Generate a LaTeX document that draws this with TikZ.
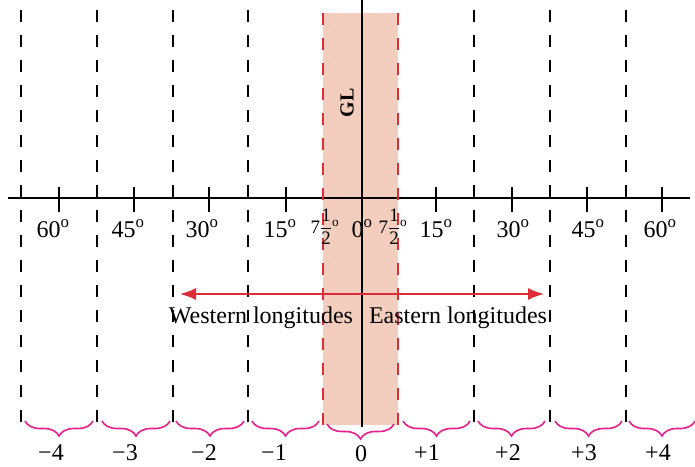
\documentclass[tikz,border=0pt]{standalone}
\usepackage{fontspec}
\setmainfont{Liberation Serif}
\usepackage{amsmath}
\usetikzlibrary{arrows.meta,decorations.pathreplacing}
\definecolor{bandfill}{RGB}{243,206,190}
\definecolor{gmtred}{RGB}{221,45,55}
\definecolor{bracepink}{RGB}{232,30,140}
\begin{document}
\begin{tikzpicture}[x=1pt,y=-1pt,
    lbl/.style={font=\fontsize{24}{27}\selectfont, inner sep=0pt, anchor=base},
    half/.style={font=\fontsize{19}{22}\selectfont, inner sep=0pt, anchor=base},
    zone/.style={line width=1.6pt, dash pattern=on 12pt off 13pt},
    gmt/.style={zone, gmtred},
    tickmark/.style={line width=1.2pt},
    hourbrace/.style={bracepink, line width=1.6pt, decorate, decoration={brace, mirror, amplitude=15pt}}]
      \useasboundingbox (0,0) rectangle (695,466);
      \fill[bandfill] (323,13) rectangle (398,425);
      \draw[line width=1.3pt] (8,198) -- (690,198);
      \foreach \x in {21,97,173,248,474,550,626} \draw[zone] (\x,10) -- (\x,425);
      \draw[gmt] (323,13) -- (323,425);
      \draw[gmt] (398,13) -- (398,425);
      \draw[line width=1.6pt] (362,0) -- (362,427);
      \foreach \x in {59,134,209,286,436,512,587,662} \draw[tickmark] (\x,187) -- (\x,212);
      \node[font=\bfseries\fontsize{20}{24}\selectfont, rotate=90] (gl) at (347,103) {GL};
      \node[lbl] (w60) at (53,237) {60\textsuperscript{o}};
      \node[lbl] (w45) at (128,237) {45\textsuperscript{o}};
      \node[lbl] (w30) at (202,237) {30\textsuperscript{o}};
      \node[lbl] (w15) at (280,237) {15\textsuperscript{o}};
      \node[half] (w7) at (325,233) {7$\dfrac{\text{1}}{\text{2}}$\textsuperscript{o}};
      \node[lbl] (zero) at (362,237) {0\textsuperscript{o}};
      \node[half] (e7) at (393,233) {7$\dfrac{\text{1}}{\text{2}}$\textsuperscript{o}};
      \node[lbl] (e15) at (436,237) {15\textsuperscript{o}};
      \node[lbl] (e30) at (513,237) {30\textsuperscript{o}};
      \node[lbl] (e45) at (588,237) {45\textsuperscript{o}};
      \node[lbl] (e60) at (660,237) {60\textsuperscript{o}};
      \coordinate (westend) at (180,294);
      \coordinate (eastend) at (544,294);
      \draw[gmtred, line width=1.5pt, {Latex[length=16pt,width=12pt]}-{Latex[length=16pt,width=12pt]}] (westend) -- (eastend);
      \node[lbl] (west) at (261,323) {Western longitudes};
      \node[lbl] (east) at (458,323) {Eastern longitudes};
      \draw[hourbrace] (25,421) -- (93,421);
      \draw[hourbrace] (102,421) -- (170,421);
      \draw[hourbrace] (176,421) -- (244,421);
      \draw[hourbrace] (252,421) -- (319,421);
      \draw[hourbrace] (327,424) -- (394,424);
      \draw[hourbrace] (403,421) -- (470,421);
      \draw[hourbrace] (478,421) -- (545,421);
      \draw[hourbrace] (555,421) -- (622,421);
      \draw[hourbrace] (629,421) -- (695,421);
      \node[lbl] (m4) at (51,460) {−4};
      \node[lbl] (m3) at (125,460) {−3};
      \node[lbl] (m2) at (204,460) {−2};
      \node[lbl] (m1) at (274,460) {−1};
      \node[lbl] (h0) at (361,461) {0};
      \node[lbl] (p1) at (427,460) {+1};
      \node[lbl] (p2) at (508,460) {+2};
      \node[lbl] (p3) at (584,460) {+3};
      \node[lbl] (p4) at (658,460) {+4};
    \end{tikzpicture}
\end{document}
